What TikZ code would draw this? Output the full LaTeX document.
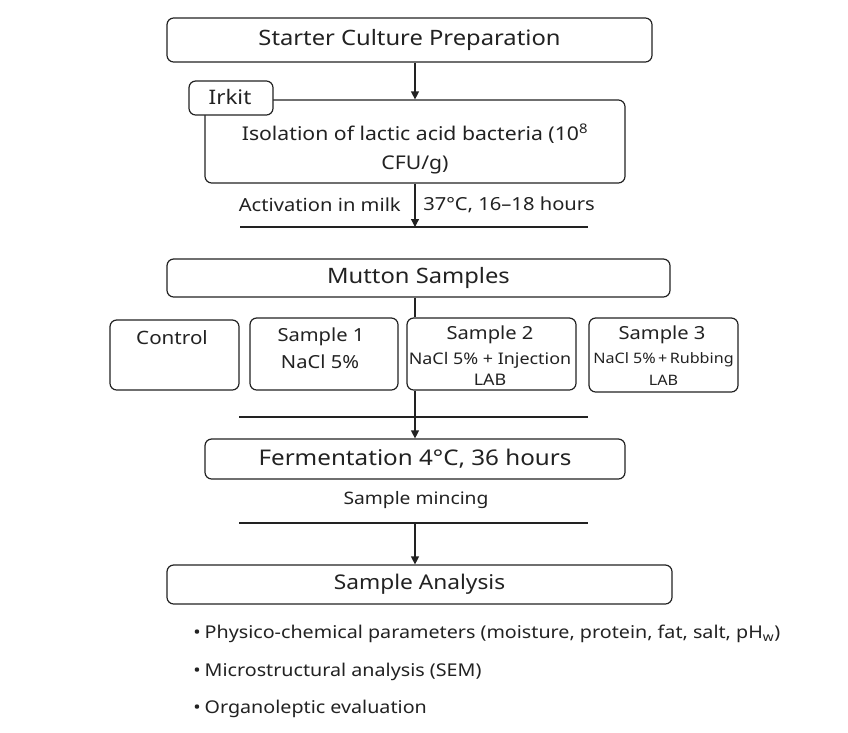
\documentclass[tikz,border=0pt]{standalone}
\usepackage{fontspec}
\setmainfont{Noto Sans}[FakeStretch=1.12]
\usetikzlibrary{arrows.meta}
\definecolor{ink}{HTML}{222222}
\newcommand{\fsz}[1]{\fontsize{#1}{#1}\selectfont}
\begin{document}
\begin{tikzpicture}[x=0.75pt,y=-0.75pt,
  box/.style={draw=ink,line width=0.9pt,rounded corners=5pt,inner sep=0pt,text=ink},
  txt/.style={inner sep=0pt,text=ink,align=center},
  ln/.style={draw=ink,line width=0.9pt},
  arr/.style={draw=ink,line width=0.9pt,-{Triangle[width=6pt,length=6pt]}},
]
\useasboundingbox (0,0) rectangle (848,732);
\fill[white] (0,0) rectangle (848,732);
\coordinate (ax) at (415,0);

% Starter culture
\node[box,font=\fsz{15.9},minimum width=363.75pt,minimum height=33pt] (start) at (409.5,40) {Starter Culture Preparation};

% Isolation box with Irkit tab
\node[box,minimum width=315pt,minimum height=62.25pt] (iso) at (415,141.5) {};
\node[txt,font=\fontsize{14.2}{21.5}\selectfont] (isotxt) at (415,149) {Isolation of lactic acid bacteria (10\textsuperscript{8}\\CFU/g)};
\node[box,fill=white,minimum width=63pt,minimum height=25.5pt] (irkit) at (231,98) {};
\node[txt,font=\fsz{15}] (irkittxt) at (230,97) {Irkit};

\draw[arr] (start.south -| ax) -- (iso.north -| ax);

% Activation
\coordinate (actL) at (240,227);
\coordinate (actR) at (588,227);
\draw[ln] (actL) -- (actR);
\coordinate (act) at (415,227);
\draw[arr] (iso.south -| ax) -- (act);
\node[txt,font=\fsz{13.5},anchor=east] (actl) at (401,205) {Activation in milk};
\node[txt,font=\fsz{13.5},anchor=west] (actr) at (423,205) {37°C, 16–18 hours};

% Mutton samples
\node[box,font=\fsz{15.9},minimum width=377.25pt,minimum height=28.5pt] (mut) at (418.5,278) {Mutton Samples};

\node[box,minimum width=96.75pt,minimum height=52.5pt] (ctrl) at (174.5,355) {};
\node[box,minimum width=111pt,minimum height=54pt] (s1) at (324,354) {};
\node[box,minimum width=126.75pt,minimum height=54pt] (s2) at (491.5,354) {};
\node[box,minimum width=111.75pt,minimum height=55.5pt] (s3) at (663.5,355) {};

\draw[ln] (mut.south -| ax) -- (s2.north -| ax);

\node[txt,font=\fsz{13.8}] (ctrlt) at (172,338) {Control};
\node[txt,font=\fsz{13.5}] (s1a) at (321,337) {Sample 1};
\node[txt,font=\fsz{13.5}] (s1b) at (320,362) {NaCl 5\%};
\node[txt,font=\fsz{13.5}] (s2a) at (490,335) {Sample 2};
\node[txt,font=\fsz{12}] (s2b) at (490,360) {NaCl 5\% + Injection};
\node[txt,font=\fsz{12}] (s2c) at (490,380) {LAB};
\node[txt,font=\fsz{13.5}] (s3a) at (662,335) {Sample 3};
\node[txt,font=\fsz{10.8}] (s3b) at (663.5,360) {NaCl 5\%\,+\,Rubbing};
\node[txt,font=\fsz{10.8}] (s3c) at (663.5,380) {LAB};

\coordinate (colL) at (239,417);
\coordinate (colR) at (588,417);
\draw[ln] (colL) -- (colR);

% Fermentation
\node[box,font=\fsz{16.2},minimum width=315pt,minimum height=30pt] (ferm) at (415,459) {Fermentation 4°C, 36 hours};
\draw[arr] (s2.south -| ax) -- (ferm.north -| ax);

\node[txt,font=\fsz{12.9}] (mince) at (416,500) {Sample mincing};
\coordinate (minL) at (239,523);
\coordinate (minR) at (588,523);
\draw[ln] (minL) -- (minR);
\coordinate (min) at (415,523);

% Analysis
\node[box,font=\fsz{15.2},minimum width=378.75pt,minimum height=29.25pt] (ana) at (419.5,584.5) {Sample Analysis};
\draw[arr] (min) -- (ana.north -| ax);

\node[txt,font=\fsz{13.2},anchor=west] (b1) at (193,634) {•\hspace{3pt}Physico-chemical parameters (moisture, protein, fat, salt, pH\textsubscript{w})};
\node[txt,font=\fsz{13.2},anchor=west] (b2) at (193,672) {•\hspace{3pt}Microstructural analysis (SEM)};
\node[txt,font=\fsz{13.2},anchor=west] (b3) at (193,709) {•\hspace{3pt}Organoleptic evaluation};
\end{tikzpicture}
\end{document}
